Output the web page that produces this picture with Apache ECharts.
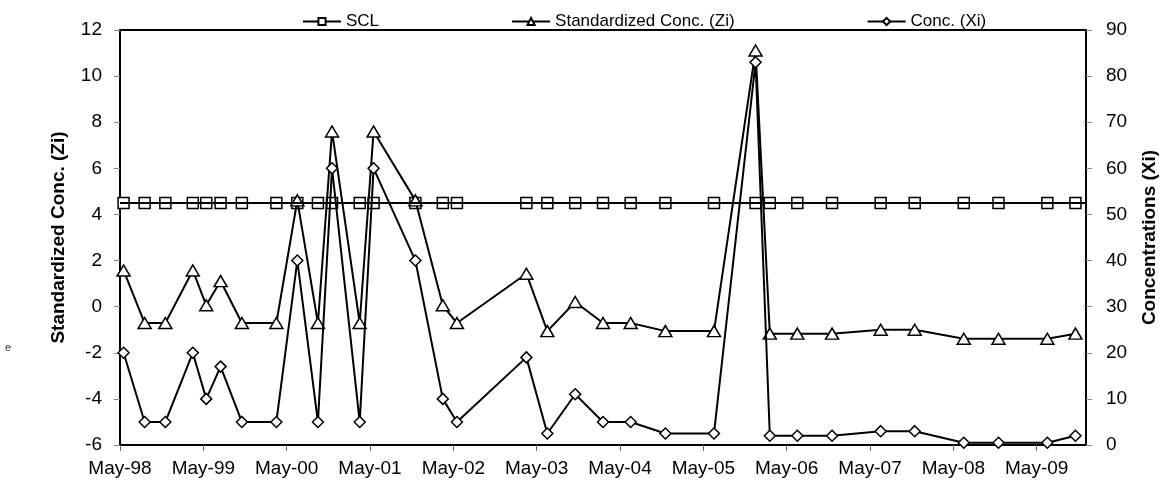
<!DOCTYPE html>
<html>
<head>
<meta charset="utf-8">
<script src="https://cdn.jsdelivr.net/npm/echarts@6/dist/echarts.min.js"></script>
<style>
html,body{margin:0;padding:0;background:#fff;}
#chart{width:1162px;height:489px;}
</style>
</head>
<body>
<div id="chart"></div>
<script>
// ---- data ----
var sampleDates = [
  '1998-05-17','1998-08-18','1998-11-17','1999-03-16','1999-05-14','1999-07-16','1999-10-18',
  '2000-03-17','2000-06-17','2000-09-16','2000-11-17','2001-03-17','2001-05-17','2001-11-17',
  '2002-03-16','2002-05-17','2003-03-17','2003-06-17','2003-10-18','2004-02-17','2004-06-17',
  '2004-11-17','2005-06-17','2005-12-17','2006-02-17','2006-06-17','2006-11-17','2007-06-17',
  '2007-11-14','2008-06-16','2008-11-16','2009-06-17','2009-10-19'
];
var sclValues = [4.5,4.5,4.5,4.5,4.5,4.5,4.5,4.5,4.5,4.5,4.5,4.5,4.5,4.5,4.5,4.5,4.5,
  4.5,4.5,4.5,4.5,4.5,4.5,4.5,4.5,4.5,4.5,4.5,4.5,4.5,4.5,4.5,4.5];
var ziValues = [1.57,-0.71,-0.71,1.57,0.06,1.11,-0.71,-0.71,4.61,-0.71,7.6,-0.71,7.6,4.61,
  0.06,-0.71,1.43,-1.06,0.2,-0.71,-0.71,-1.06,-1.06,11.11,-1.17,-1.17,-1.17,-1.0,-1.0,
  -1.39,-1.39,-1.39,-1.17];
var xiValues = [20,5,5,20,10,17,5,5,40,5,60,5,60,40,10,5,19,2.5,11,5,5,2.5,2.5,83,2,2,2,
  3,3,0.5,0.5,0.5,2];
var xTickLabels = ['May-98','May-99','May-00','May-01','May-02','May-03','May-04','May-05',
  'May-06','May-07','May-08','May-09'];
var leftTicks = {min:-6, max:12, interval:2};
var rightTicks = {min:0, max:90, interval:10};
var seriesNames = ['SCL','Standardized Conc. (Zi)','Conc. (Xi)'];

// months elapsed since 1 May 1998
function toMonths(s){
  var p = s.split('-').map(Number);
  var dim = new Date(p[0], p[1], 0).getDate();
  return (p[0]-1998)*12 + (p[1]-5) + (p[2]-1)/dim;
}
function pairs(vals){ return sampleDates.map(function(d,i){ return [toMonths(d), vals[i]]; }); }
var tickPositions = xTickLabels.map(function(_,i){ return i*12; });

var FONT = '"Liberation Sans", Arial, sans-serif';
var chart = echarts.init(document.getElementById('chart'), null, {renderer:'canvas'});
var markerStyle = {color:'#fff', borderColor:'#000', borderWidth:1.5};
var lineStyle = {color:'#000', width:2};

chart.setOption({
  animation:false,
  backgroundColor:'#fff',
  textStyle:{fontFamily:FONT, color:'#000'},
  legend:{
    left:297, top:8, itemWidth:38, itemHeight:9, itemGap:132,
    textStyle:{fontFamily:FONT, fontSize:17, color:'#000'},
    data:seriesNames
  },
  grid:{left:120, right:76, top:30, bottom:44, show:true, borderColor:'#000', borderWidth:2,
    outerBoundsMode:'none', containLabel:false},
  xAxis:{
    type:'value', min:0, max:139.1,
    axisLine:{onZero:false, lineStyle:{color:'#000', width:2}},
    axisTick:{show:true, inside:false, length:6, lineStyle:{color:'#666'}, customValues:tickPositions},
    axisLabel:{fontFamily:FONT, fontSize:19, color:'#000', margin:14, customValues:tickPositions,
      formatter:function(v){ var i = Math.round(v/12); return xTickLabels[i] || ''; }},
    splitLine:{show:false}
  },
  yAxis:[{
    type:'value', position:'left', min:leftTicks.min, max:leftTicks.max, interval:leftTicks.interval,
    name:'Standardized Conc. (Zi)', nameLocation:'middle', nameRotate:90, nameGap:52,
    nameTextStyle:{fontFamily:FONT, fontSize:19, fontWeight:'bold', color:'#000'},
    axisLine:{show:true, onZero:false, lineStyle:{color:'#000', width:2}},
    axisTick:{show:true, length:6, lineStyle:{color:'#888'}},
    axisLabel:{fontFamily:FONT, fontSize:19, color:'#000', margin:18},
    splitLine:{show:false}
  },{
    type:'value', position:'right', min:rightTicks.min, max:rightTicks.max, interval:rightTicks.interval,
    name:'Concentrations (Xi)', nameLocation:'middle', nameRotate:90, nameGap:54,
    nameTextStyle:{fontFamily:FONT, fontSize:19, fontWeight:'bold', color:'#000'},
    axisLine:{show:true, onZero:false, lineStyle:{color:'#000', width:2}},
    axisTick:{show:true, length:6, lineStyle:{color:'#888'}},
    axisLabel:{fontFamily:FONT, fontSize:19, color:'#000', margin:20},
    splitLine:{show:false}
  }],
  graphic:[{type:'text', left:5, top:342, style:{text:'e', fontSize:11, fontFamily:FONT, fill:'#333'}}],
  series:[{
    name:seriesNames[0], type:'line', yAxisIndex:0, data:pairs(sclValues),
    symbol:'rect', symbolSize:11, showAllSymbol:true,
    lineStyle:lineStyle, itemStyle:markerStyle,
    markLine:{silent:true, symbol:'none', label:{show:false},
      lineStyle:{color:'#000', width:2, type:'solid'}, data:[{yAxis:sclValues[0]}]},
    z:2
  },{
    name:seriesNames[1], type:'line', yAxisIndex:0, data:pairs(ziValues),
    symbol:'triangle', symbolSize:[13,11], showAllSymbol:true,
    lineStyle:lineStyle, itemStyle:markerStyle, z:3
  },{
    name:seriesNames[2], type:'line', yAxisIndex:1, data:pairs(xiValues),
    symbol:'diamond', symbolSize:[11,11], showAllSymbol:true,
    lineStyle:lineStyle, itemStyle:markerStyle, z:4
  }]
});
</script>
</body>
</html>
